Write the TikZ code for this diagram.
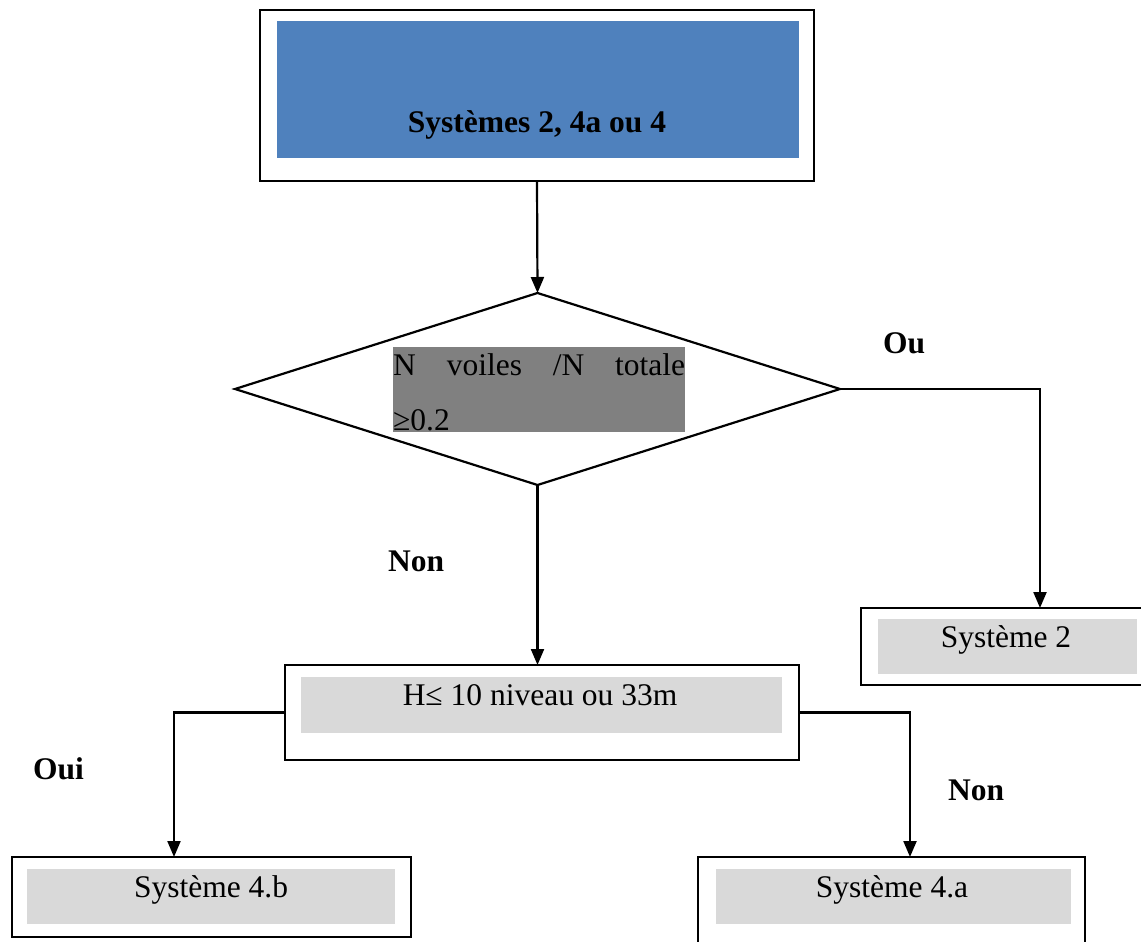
\documentclass[tikz,border=0pt]{standalone}
\usepackage{fontspec}
\setmainfont{Liberation Serif}
\usetikzlibrary{arrows.meta,shapes.geometric}
\definecolor{topblue}{HTML}{4F81BD}
\definecolor{midgray}{HTML}{808080}
\definecolor{lightgray}{HTML}{D9D9D9}
\begin{document}
\begin{tikzpicture}[x=1pt,y=-1pt,
  outerbox/.style={draw=black,line width=2.2pt,fill=white,inner sep=0pt,outer sep=0pt,anchor=north west},
  fillbox/.style={inner sep=0pt,outer sep=0pt,anchor=north west},
  arr/.style={line width=2.2pt,-{Triangle[width=13pt,length=16pt]}},
  txt/.style={font=\fontsize{31.5}{37}\selectfont,inner sep=0pt,anchor=base},
  btxt/.style={font=\fontsize{31.5}{37}\selectfont\bfseries,inner sep=0pt,anchor=base west}]
\useasboundingbox (0,0) rectangle (1141,942);
% top box
\node[outerbox,minimum width=554pt,minimum height=171pt] (top) at (260,10) {};
\node[fillbox,fill=topblue,minimum width=522pt,minimum height=137pt] (topin) at (277,21) {};
\node[txt,font=\fontsize{31.5}{37}\selectfont\bfseries] (toptxt) at (537,132) {Systèmes 2, 4a ou 4};
% diamond
\node[diamond,draw=black,line width=2.2pt,minimum width=605pt,minimum height=192pt,inner sep=0pt,outer sep=0pt] (dia) at (537.5,389) {};
\node[fillbox,fill=midgray,minimum width=292pt,minimum height=85pt] (diain) at (393,347) {};
\node[txt,anchor=base west] (dl1) at (393,375) {\hbox to 292pt{N\hfill voiles\hfill /N\hfill totale}};
\node[txt,anchor=base west] (dl2) at (393,430) {≥0.2};
% Systeme 2
\node[outerbox,minimum width=300pt,minimum height=77pt] (s2) at (861,608) {};
\node[fillbox,fill=lightgray,minimum width=259pt,minimum height=55pt] (s2in) at (878,619) {};
\node[txt] (s2t) at (1006,647) {Système 2};
% H box
\node[outerbox,minimum width=514pt,minimum height=95pt] (H) at (285,665) {};
\node[fillbox,fill=lightgray,minimum width=481pt,minimum height=56pt] (Hin) at (301,677) {};
\node[txt] (Ht) at (540,705) {H≤ 10 niveau ou 33m};
% Systeme 4.b
\node[outerbox,minimum width=399pt,minimum height=80pt] (s4b) at (12,857) {};
\node[fillbox,fill=lightgray,minimum width=368pt,minimum height=55pt] (s4bin) at (27,869) {};
\node[txt] (s4bt) at (211,897) {Système 4.b};
% Systeme 4.a
\node[outerbox,minimum width=387pt,minimum height=110pt] (s4a) at (698,857) {};
\node[fillbox,fill=lightgray,minimum width=355pt,minimum height=55pt] (s4ain) at (716,869) {};
\node[txt] (s4at) at (892,897) {Système 4.a};
% connectors
\coordinate (c2) at (1040,389);
\coordinate (c4b) at (174,712.5);
\coordinate (c4a) at (910,712.5);
\draw[arr] (top.south) -- (dia.north);
\draw[arr] (dia.east) -- (c2) -- (c2 |- s2.north);
\draw[arr] (dia.south) -- (dia.south |- H.north);
\draw[arr] (H.west) -- (c4b) -- (c4b |- s4b.north);
\draw[arr] (H.east) -- (c4a) -- (c4a |- s4a.north);
% labels
\node[btxt] (lou) at (883,353) {Ou};
\node[btxt] (lnon1) at (388,571) {Non};
\node[btxt] (loui) at (33,779) {Oui};
\node[btxt] (lnon2) at (948,800) {Non};
\end{tikzpicture}
\end{document}
